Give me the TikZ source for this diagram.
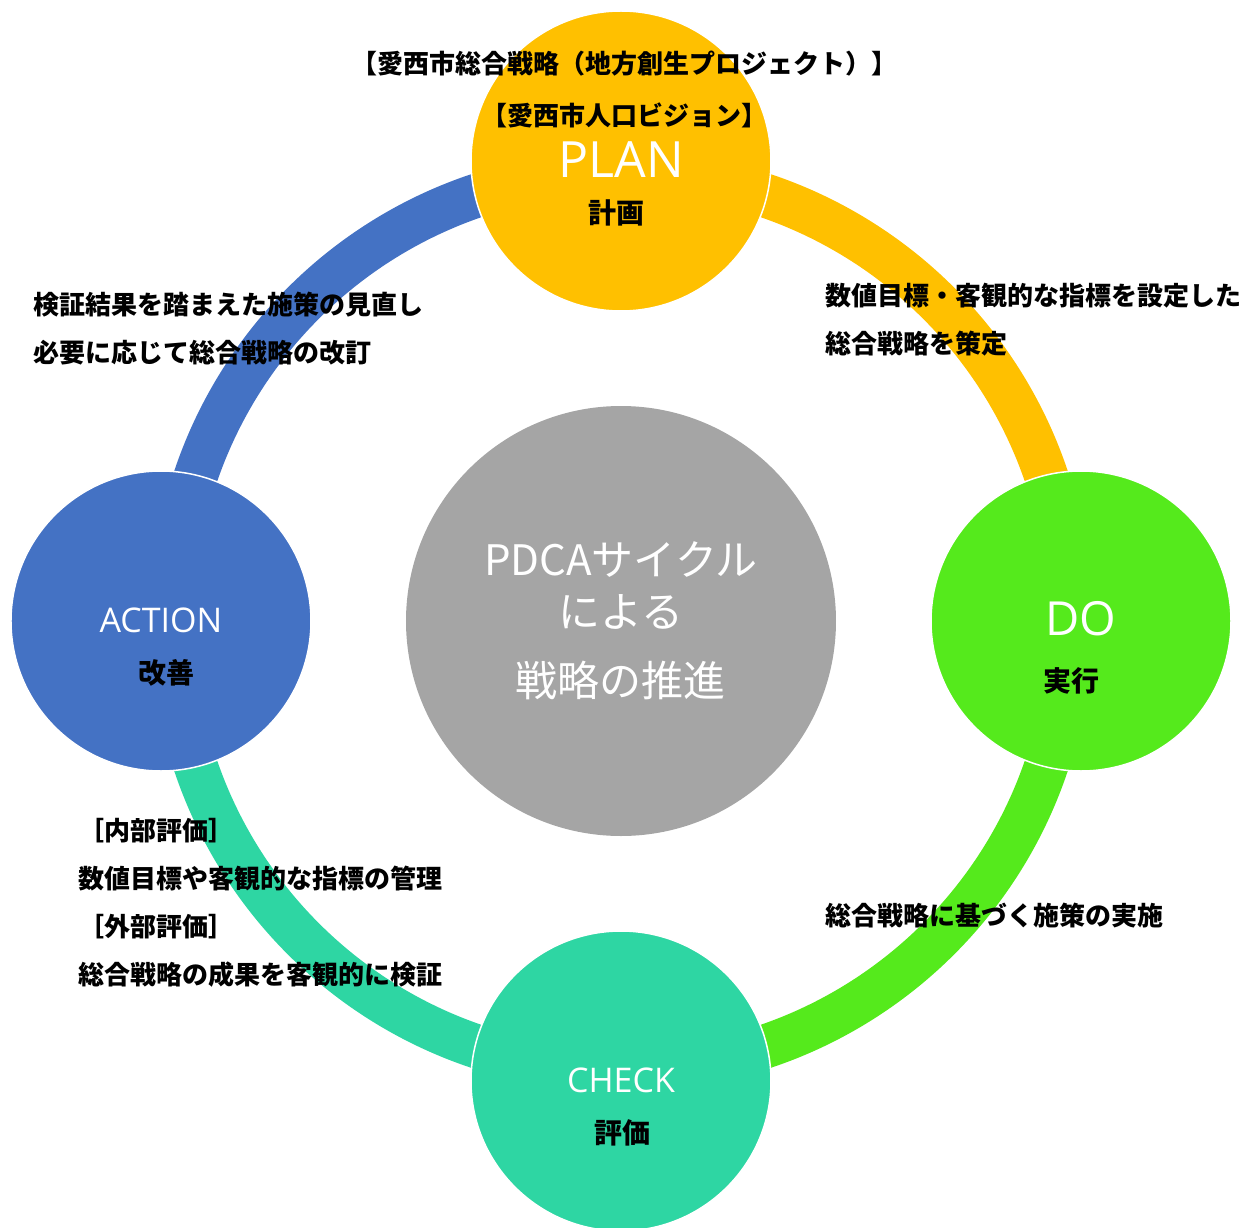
\documentclass[tikz,border=0pt]{standalone}
\usepackage{fontspec}
\setmainfont{Noto Sans CJK JP}
\newfontfamily\latinfont{Open Sans}
\usetikzlibrary{positioning,backgrounds}
\definecolor{planc}{HTML}{FFC000}
\definecolor{doc}{HTML}{55EA1C}
\definecolor{checkc}{HTML}{2ED6A3}
\definecolor{actc}{HTML}{4472C4}
\definecolor{hubc}{HTML}{A5A5A5}

\begin{document}
\begin{tikzpicture}[
		x=1pt, y=1pt,
		node distance=460pt,
		stage/.style={
			circle,
			draw=white,
			line width=1.5pt,
			minimum size=300pt,
			inner sep=0pt
		},
		hub/.style={
			circle,
			fill=hubc,
			minimum size=430pt,
			inner sep=0pt,
			text=white,
			align=center,
			font=\fontsize{42}{52}\selectfont
		},
		ring/.style={
			line width=44pt
		},
		tag/.style={
			text=white,
			inner sep=0pt
		},
		word/.style={
			font=\fontsize{28}{34}\selectfont\bfseries,
			inner sep=0pt
		},
		note/.style={
			anchor=west,
			align=left,
			inner sep=0pt,
			font=\fontsize{26}{48}\selectfont\bfseries
		}
		]
		\useasboundingbox (-621,-606) rectangle (621,621);
		
		% We start by placing the circles
		\node [hub] (core) {PDCAサイクル\\による\\[17pt]戦略の推進};
		\node [stage, fill=planc, above of=core] (plan) {};
		\node [stage, fill=doc, right of=core] (do) {};
		\node [stage, fill=checkc, below of=core] (check) {};
		\node [stage, fill=actc, left of=core] (act) {};
		
		% the ring goes behind them
		\begin{scope}[on background layer]
		\draw [ring, actc] ([xshift=11pt]act.center) to[out=90, in=180] ([yshift=-11pt]plan.center);
		\draw [ring, planc] ([yshift=-11pt]plan.center) to[out=0, in=90] ([xshift=-11pt]do.center);
		\draw [ring, doc] ([xshift=-11pt]do.center) to[out=270, in=0] ([yshift=11pt]check.center);
		\draw [ring, checkc] ([yshift=11pt]check.center) to[out=180, in=270] ([xshift=11pt]act.center);
		\end{scope}
		
		\node [tag, font=\latinfont\fontsize{50}{60}\selectfont] (plantag) at ([yshift=1pt]plan.center) {PLAN};
		\node [word] (planword) at ([xshift=-4pt, yshift=-52pt]plan.center) {計画};
		\node [tag, font=\latinfont\fontsize{47}{56}\selectfont] (dotag) at ([yshift=2pt]do.center) {DO};
		\node [word] (doword) at ([xshift=-10pt, yshift=-60pt]do.center) {実行};
		\node [tag, font=\latinfont\fontsize{34}{40}\selectfont] (checktag) at ([yshift=1pt]check.center) {CHECK};
		\node [word] (checkword) at ([xshift=2pt, yshift=-52pt]check.center) {評価};
		\node [tag, font=\latinfont\fontsize{34}{40}\selectfont] (acttag) at ([yshift=1pt]act.center) {ACTION};
		\node [word] (actword) at ([xshift=6pt, yshift=-52pt]act.center) {改善};
		
		% notes round the ring
		\node [note, anchor=center, align=center, font=\fontsize{26}{52}\selectfont\bfseries] (title) at (4,531)
		{【愛西市総合戦略（地方創生プロジェクト）】\\【愛西市人口ビジョン】};
		\node [note] (plannote) at (204,301)
		{数値目標・客観的な指標を設定した\\総合戦略を策定};
		\node [note] (donote) at (204,-295)
		{総合戦略に基づく施策の実施};
		\node [note] (checknote) at (-543,-282)
		{［内部評価］\\数値目標や客観的な指標の管理\\［外部評価］\\総合戦略の成果を客観的に検証};
		\node [note] (actnote) at (-588,292)
		{検証結果を踏まえた施策の見直し\\必要に応じて総合戦略の改訂};
		
\end{tikzpicture}
\end{document}
